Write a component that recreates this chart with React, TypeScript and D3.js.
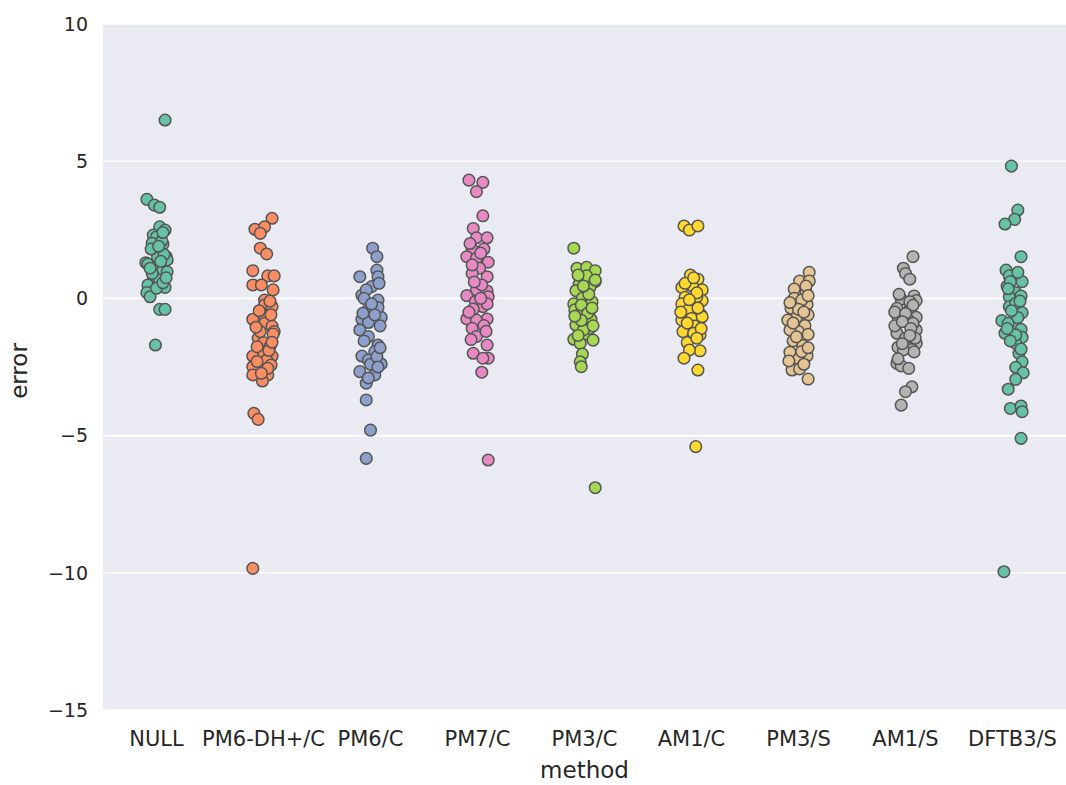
import React from "react";
import * as d3 from "d3";

const categories = ["NULL", "PM6-DH+/C", "PM6/C", "PM7/C", "PM3/C", "AM1/C", "PM3/S", "AM1/S", "DFTB3/S"];
const palette = ["#66c2a5", "#fc8d62", "#8da0cb", "#e78ac3", "#a6d854", "#ffd92f", "#e5c494", "#b3b3b3", "#66c2a5"];
const yTicks = [10, 5, 0, -5, -10, -15];

// values and horizontal jitter (fraction of category step) for each method
const nullVals = [6.5, 3.61, 3.4, 3.32, 2.61, 2.49, 2.31, 2.24, 2.01, 1.98, 1.7, 1.52, 1.3, 1.25, 1.16, 0.97, 0.97, 0.82, 0.67, 0.49, 0.4, 0.21, 0.06, 0.37, -0.4, -0.4, -1.7, 1.5, 1.4, 0.91, 0.57, 2.1, 1.8, 1.6, 1.1, 0.75, 2.4, 1.9, 1.35];
const nullJit = [0.08, -0.09, -0.02, 0.03, 0.03, 0.08, -0.03, 0.0, -0.04, 0.06, 0.0, 0.09, -0.1, -0.08, 0.0, 0.05, 0.1, -0.03, 0.03, -0.08, 0.08, -0.09, -0.06, 0.0, 0.03, 0.08, -0.01, 0.01, 0.1, -0.04, 0.06, 0.05, -0.05, 0.07, -0.06, 0.09, 0.06, 0.02, 0.04];

const pm6dhVals = [2.92, 2.52, 2.61, 2.37, 1.83, 1.62, 1.01, 0.82, 0.82, 0.49, 0.49, 0.31, -0.06, -0.24, -0.3, -0.54, -0.76, -0.91, -1.01, -1.21, -1.45, -1.61, -1.76, -1.94, -2.1, -2.1, -2.25, -2.49, -2.43, -2.79, -2.79, -3.01, -4.19, -4.41, -9.84, -1.21, -1.76, -2.55, -2.73, -0.1, -0.6, -1.3, -1.9, -2.3, -0.45, -1.05, -1.6];
const pm6dhJit = [0.08, -0.08, 0.01, -0.03, -0.03, 0.03, -0.1, 0.04, 0.1, -0.1, -0.02, 0.09, 0.01, 0.01, 0.08, -0.02, -0.1, 0.01, 0.08, 0.1, -0.05, 0.0, 0.06, -0.02, -0.1, 0.08, 0.03, -0.1, 0.07, -0.1, 0.04, -0.01, -0.09, -0.05, -0.1, -0.03, -0.06, 0.04, -0.02, 0.06, 0.07, 0.09, 0.05, -0.06, -0.04, -0.07, 0.08];

const pm6Vals = [1.83, 1.52, 1.03, 0.79, 0.79, 0.43, 0.12, 0.31, -0.06, -0.4, -0.69, -0.76, -0.88, -1.15, -1.39, -1.7, -1.94, -2.1, -2.25, -2.39, -2.67, -2.4, -2.79, -3.09, -3.7, -4.8, -5.83, -0.33, -0.54, -2.12, 0.55, 0.0, -0.6, -1.0, -1.55, -1.8, -2.5, -2.9, -0.2];
const pm6Jit = [0.02, 0.06, 0.06, -0.1, 0.07, 0.01, -0.08, -0.04, 0.07, -0.02, 0.1, -0.08, -0.02, -0.1, -0.02, 0.07, 0.04, -0.08, -0.02, 0.1, -0.1, 0.0, 0.04, -0.04, -0.04, 0.0, -0.04, 0.07, -0.07, 0.06, 0.08, -0.06, 0.04, 0.09, -0.06, 0.09, 0.07, -0.02, 0.01];

const pm7Vals = [4.31, 4.23, 3.89, 3.01, 2.55, 2.21, 2.21, 1.8, 1.8, 1.52, 1.46, 1.32, 1.1, 0.91, 0.79, 0.31, 0.27, 0.1, 0.06, -0.12, -0.3, -0.39, -0.75, -0.75, -0.79, -0.99, -1.09, -1.39, -1.7, -2.0, -2.18, -2.18, -2.69, -5.89, 0.49, 1.22, 1.65, 2.0, 0.6, -0.2, -0.5, -1.2, -1.5, 0.0];
const pm7Jit = [-0.08, 0.05, -0.01, 0.05, -0.04, -0.01, 0.09, -0.05, 0.06, -0.1, -0.01, 0.1, 0.02, -0.05, 0.09, -0.01, 0.09, -0.1, 0.1, -0.02, 0.05, -0.04, -0.1, 0.09, -0.01, 0.06, -0.05, -0.01, 0.09, -0.04, 0.1, 0.05, 0.04, 0.1, 0.04, -0.05, 0.03, -0.07, -0.03, 0.09, -0.08, 0.08, -0.06, 0.03];

const pm3cVals = [1.83, 1.1, 1.13, 1.01, 0.82, 0.61, 0.52, 0.4, 0.28, 0.0, -0.12, -0.2, -0.42, -0.6, -0.76, -0.97, -1.3, -1.49, -1.52, -1.64, -2.03, -2.31, -2.49, -6.9, 0.67, -0.24, -0.54, -1.09, -1.15, 0.85, 0.15, -0.35, -0.8, -1.0, -0.65, 0.45, -1.35];
const pm3cJit = [-0.1, -0.07, 0.02, 0.1, 0.02, 0.1, -0.05, 0.05, -0.08, -0.02, 0.07, -0.1, -0.09, -0.05, 0.06, -0.08, 0.02, -0.1, 0.08, -0.04, -0.02, -0.04, -0.03, 0.1, 0.1, -0.03, 0.03, 0.05, -0.01, -0.06, 0.04, 0.07, -0.03, 0.08, -0.09, -0.01, -0.06];

const am1cVals = [2.64, 2.49, 2.64, 0.85, 0.7, 0.4, 0.45, 0.31, 0.04, -0.08, -0.2, -0.18, -0.42, -0.6, -0.79, -0.73, -1.01, -1.21, -1.33, -1.61, -1.91, -1.88, -2.18, -2.61, -5.4, -0.67, -1.27, 0.06, -0.5, 0.55, 0.2, -0.35, -0.9, -1.1, -1.45, -0.05, 0.75];
const am1cJit = [-0.07, -0.02, 0.06, -0.01, 0.06, -0.09, 0.01, 0.1, -0.06, 0.1, -0.09, 0.03, -0.03, 0.09, -0.09, 0.0, 0.03, -0.08, 0.08, -0.04, 0.08, -0.02, -0.07, 0.06, 0.04, 0.1, 0.02, 0.05, -0.1, -0.06, 0.05, 0.06, -0.04, 0.09, 0.05, -0.02, 0.02];

const pm3sVals = [0.95, 0.63, 0.63, 0.34, 0.22, 0.0, -0.22, -0.36, -0.7, -0.6, -0.79, -0.99, -1.21, -1.31, -1.55, -1.72, -1.96, -2.09, -2.21, -2.61, -2.57, -2.94, -1.15, -1.94, -0.06, -2.28, -0.4, 0.45, -0.15, -0.5, -0.9, -1.4, -1.8, -2.4, 0.1];
const pm3sJit = [0.1, 0.01, 0.1, -0.04, 0.07, -0.04, 0.08, -0.07, -0.02, 0.09, -0.1, 0.06, 0.0, 0.09, -0.05, 0.04, -0.08, 0.08, 0.0, -0.06, 0.01, 0.09, -0.08, 0.03, 0.03, -0.09, 0.0, 0.07, -0.08, 0.05, -0.05, -0.02, 0.09, 0.05, 0.09];

const am1sVals = [1.52, 1.1, 0.91, 0.7, -0.03, 0.09, -0.08, -0.36, -0.4, -0.69, -0.69, -0.76, -1.15, -1.27, -1.45, -1.64, -1.78, -1.86, -1.88, -2.37, -2.46, -2.55, -3.22, -3.4, -3.89, -0.91, -1.45, -0.12, -1.0, -0.5, 0.15, -0.25, -0.55, -0.85, -1.1, -1.35, -1.65, -2.2, -1.95];
const am1sJit = [0.07, -0.02, 0.0, 0.04, -0.04, 0.08, 0.1, -0.08, 0.04, 0.1, -0.07, 0.02, 0.1, -0.08, 0.0, 0.1, -0.07, 0.06, -0.02, -0.08, -0.04, 0.03, 0.06, 0.0, -0.04, 0.07, 0.09, 0.04, -0.1, -0.1, -0.06, 0.07, 0.0, -0.03, 0.05, 0.04, -0.03, -0.07, 0.08];

const dftbVals = [4.82, 3.22, 2.88, 2.71, 1.52, 1.03, 0.82, 0.61, 0.45, 0.21, 0.09, 0.06, -0.3, -0.52, -0.81, -0.97, -1.27, -1.13, -1.42, -1.64, -2.0, -2.31, -2.51, -2.71, -2.95, -3.31, -4.01, -3.92, -4.13, -5.1, -9.96, 0.61, -0.18, -0.91, -1.33, 0.95, 0.35, -0.1, -0.7, -1.1, -1.55, -1.85, -0.45];
const dftbJit = [-0.01, 0.05, 0.02, -0.07, 0.08, -0.06, -0.03, 0.09, -0.05, 0.03, 0.08, -0.03, -0.03, 0.09, -0.1, 0.02, -0.07, 0.08, 0.09, 0.03, 0.06, 0.09, 0.03, 0.1, 0.03, -0.04, -0.02, 0.08, 0.09, 0.08, -0.08, -0.02, 0.03, -0.04, 0.03, 0.05, -0.04, 0.07, 0.05, -0.05, -0.02, 0.08, -0.01];

const seriesVals = [nullVals, pm6dhVals, pm6Vals, pm7Vals, pm3cVals, am1cVals, pm3sVals, am1sVals, dftbVals];
const seriesJit = [nullJit, pm6dhJit, pm6Jit, pm7Jit, pm3cJit, am1cJit, pm3sJit, am1sJit, dftbJit];

const W = 1066;
const H = 785;
const M = { left: 103, right: 0, top: 24, bottom: 75 };
const FONT = "'DejaVu Sans', sans-serif";
const TXT = "#262626";

export default function App() {
  const x = d3.scaleBand<string>().domain(categories).range([M.left, W - M.right]).padding(0);
  const y = d3.scaleLinear().domain([-15, 10]).range([H - M.bottom, M.top]);
  const step = x.step();
  const fmt = (v: number) => (v < 0 ? "\u2212" + Math.abs(v) : String(v));

  return (
    <div style={{ position: "absolute", left: 0, top: 0 }}>
      <svg width={W} height={H} style={{ display: "block" }}>
        <rect x={M.left} y={M.top} width={W - M.left - M.right} height={H - M.top - M.bottom} fill="#eaeaf2" />
        {yTicks.map((t) => (
          <line key={"g" + t} x1={M.left} x2={W - M.right} y1={y(t)} y2={y(t)} stroke="#ffffff" strokeWidth={1.6} />
        ))}
        {categories.map((c, ci) =>
          seriesVals[ci].map((v, i) => (
            <circle
              key={c + i}
              cx={(x(c) as number) + step / 2 + seriesJit[ci][i] * step}
              cy={y(v)}
              r={5.8}
              fill={palette[ci]}
              stroke="#555555"
              strokeWidth={1.5}
            />
          ))
        )}
        {yTicks.map((t) => (
          <text key={"t" + t} x={M.left - 15} y={y(t)} dy="0.36em" textAnchor="end" fontFamily={FONT} fontSize={19} fill={TXT}>
            {fmt(t)}
          </text>
        ))}
        {categories.map((c) => (
          <text key={"x" + c} x={(x(c) as number) + step / 2} y={746} textAnchor="middle" fontFamily={FONT} fontSize={21} fill={TXT}>
            {c}
          </text>
        ))}
        <text x={(M.left + W - M.right) / 2} y={778} textAnchor="middle" fontFamily={FONT} fontSize={23} fill={TXT}>
          method
        </text>
        <text transform={`translate(27, ${(M.top + H - M.bottom) / 2 + 4}) rotate(-90)`} textAnchor="middle" fontFamily={FONT} fontSize={23} fill={TXT}>
          error
        </text>
      </svg>
    </div>
  );
}
